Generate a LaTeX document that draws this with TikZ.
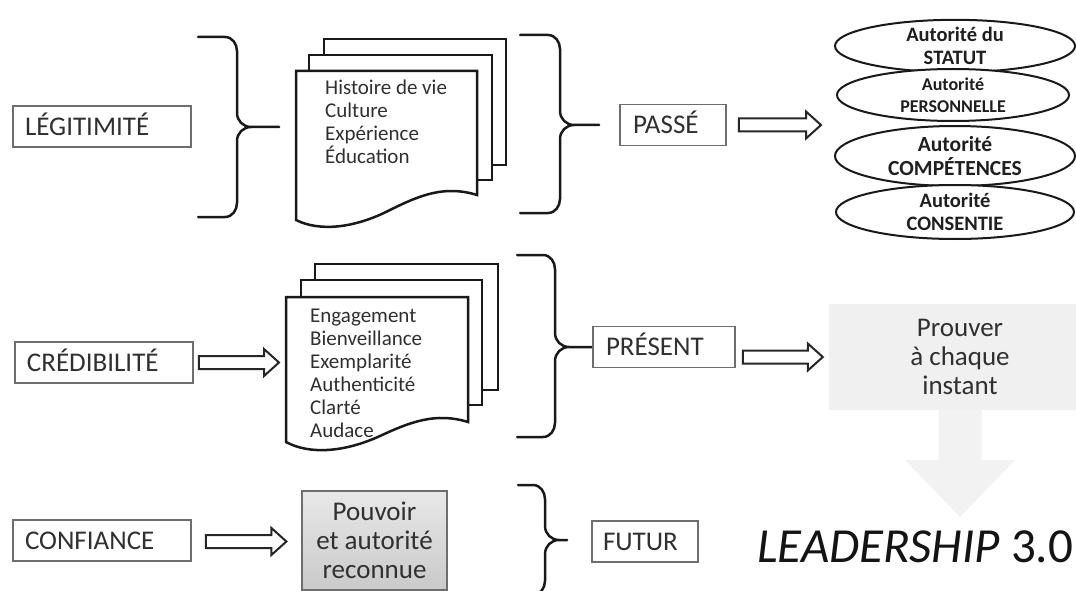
\documentclass[tikz,border=0pt]{standalone}
\usepackage{fontspec}
\setmainfont{Carlito}
\usetikzlibrary{shapes.geometric,calc}
\definecolor{txt}{HTML}{303030}
\definecolor{boxline}{HTML}{6E6E6E}
\definecolor{lightfill}{HTML}{F0F0F0}
\definecolor{arrowfill}{HTML}{F2F2F2}
\newcommand\mybrace[6]{%
  \draw[bracestyle] (#1,#4) -- (#2-12,#4) to[out=0,in=90] (#2,#4+14) -- (#2,#5-14)
    to[out=-90,in=180] (#2+14,#5) -- (#3,#5)
    (#2+14,#5) to[out=180,in=90] (#2,#5+14) -- (#2,#6-14)
    to[out=-90,in=0] (#2-12,#6) -- (#1,#6);}
\begin{document}
\begin{tikzpicture}[x=1pt,y=-1pt,
  lbox/.style={draw=boxline, line width=1.5pt, fill=white, inner xsep=12pt, inner ysep=0pt,
    minimum height=41pt, text height=17.5pt, text depth=0pt,
    font=\fontsize{27}{29}\selectfont, text=txt, align=left},
  bracestyle/.style={line width=2.5pt, draw=black!90, line join=round, line cap=round},
  docline/.style={line width=2.5pt, draw=black!90, fill=white, line join=miter},
  listtext/.style={font=\fontsize{21}{23}\selectfont, align=left, inner sep=0pt, text=txt},
  ell/.style={ellipse, draw=black!90, line width=2pt, fill=white, inner sep=0pt,
    align=center, text=black!88},
  blockarrow/.style={draw=black!85, line width=2pt, fill=white, line join=miter,
    to path={let \p1=(\tikztostart), \p2=(\tikztotarget) in
      (\x1,\y1+6.5pt) -- (\x2-15pt,\y1+6.5pt) -- (\x2-15pt,\y1+13.5pt) -- (\x2,\y1)
      -- (\x2-15pt,\y1-13.5pt) -- (\x2-15pt,\y1-6.5pt) -- (\x1,\y1-6.5pt) -- cycle}},
  downblock/.style={fill=arrowfill, draw=none,
    to path={let \p1=(\tikztostart), \p2=(\tikztotarget) in
      (\x1-21.5pt,\y1) -- (\x1-21.5pt,\y2+57pt) -- (\x1-55pt,\y2+57pt) -- (\x1,\y2)
      -- (\x1+55pt,\y2+57pt) -- (\x1+21.5pt,\y2+57pt) -- (\x1+21.5pt,\y1) -- cycle}}
]
\useasboundingbox (0,0) rectangle (1076,591);
\fill[white] (0,0) rectangle (1076,591);

% ---------- Row 1 ----------
\node[lbox, text width=154pt] (leg) at (102,126.5) {LÉGITIMITÉ};
\mybrace{198}{237}{279}{37}{127}{217}
\draw[docline] (324,39) rectangle (506,165);
\draw[docline] (309,55) rectangle (492,180);
\draw[docline] (296,71) -- (477,71) -- (477,195) .. controls (445,185) and (420,195) .. (390,210)
  .. controls (355,228) and (320,232) .. (296,220) -- cycle;
\node[listtext, anchor=north west] (l1) at (325,80) {Histoire de vie\\Culture\\Expérience\\Éducation};
\mybrace{520}{560}{599}{35}{125}{213}
\node[lbox, text width=80pt, inner xsep=13pt] (passe) at (673,125) {PASSÉ};

\node[ell, minimum width=240pt, minimum height=48pt, font=\fontsize{20.5}{22.5}\selectfont\bfseries] (e1) at (955,46) {Autorité du\\STATUT};
\node[ell, minimum width=232pt, minimum height=52pt, font=\fontsize{18}{21.5}\selectfont\bfseries] (e2) at (953,95) {Autorité\\PERSONNELLE};
\node[ell, minimum width=240pt, minimum height=60pt, font=\fontsize{21.5}{24}\selectfont\bfseries] (e3) at (955,156) {Autorité\\COMPÉTENCES};
\node[ell, minimum width=238pt, minimum height=54pt, font=\fontsize{20.5}{22.5}\selectfont\bfseries] (e4) at (955,212) {Autorité\\CONSENTIE};
\draw[blockarrow] ([xshift=12pt]passe.east) to ([xshift=-13pt]e3.west |- passe.east);

% ---------- Row 2 ----------
\node[lbox, text width=154pt] (cred) at (104,362.5) {CRÉDIBILITÉ};
\draw[docline] (315,264) rectangle (498,390);
\draw[docline] (301,280) rectangle (482,405);
\draw[docline] (286,297) -- (468,297) -- (468,422) .. controls (436,412) and (410,422) .. (380,436)
  .. controls (345,452) and (310,455) .. (286,442) -- cycle;
\coordinate (d2w) at (286,362);
\node[listtext, anchor=north west] (l2) at (310,309) {Engagement\\Bienveillance\\Exemplarité\\Authenticité\\Clarté\\Audace};
\draw[blockarrow] ([xshift=5pt]cred.east) to ([xshift=-7pt]d2w);
\mybrace{517}{555}{593}{255}{347}{437}
\node[lbox, text width=116pt, inner xsep=13pt] (pres) at (664,347) {PRÉSENT};
\node[fill=lightfill, minimum width=262pt, minimum height=106pt, inner sep=0pt, align=center,
  font=\fontsize{27}{29}\selectfont, text=txt] (prouv) at (960,357) {Prouver\\à chaque\\instant};
\draw[blockarrow] ([shift={(7,10)}]pres.east) to ([xshift=-6pt]prouv.west |- 0,357);

% ---------- Row 3 ----------
\node[lbox, text width=154pt] (conf) at (102,540.5) {CONFIANCE};
\node[draw=boxline, line width=1.2pt, top color=black!9, bottom color=black!21,
  minimum width=145pt, minimum height=99pt, inner sep=0pt, align=center,
  font=\fontsize{27}{29}\selectfont, text=txt] (pouv) at (374.5,540.5) {Pouvoir\\et autorité\\reconnue};
\draw[blockarrow] ([shift={(14,1)}]conf.east) to ([shift={(-15,1)}]pouv.west);
\mybrace{518}{545}{567}{485}{540}{595}
\node[lbox, text width=84pt, inner xsep=11pt] (fut) at (645,541.5) {FUTUR};
\node[anchor=base west, inner sep=0pt, font=\fontsize{49}{52}\selectfont, text=black!92] (lead) at (757,562) {\textit{LEADERSHIP} 3.0};
\coordinate (tipc) at (960,517);
\path[downblock] (prouv.south) to (tipc);
\end{tikzpicture}
\end{document}
